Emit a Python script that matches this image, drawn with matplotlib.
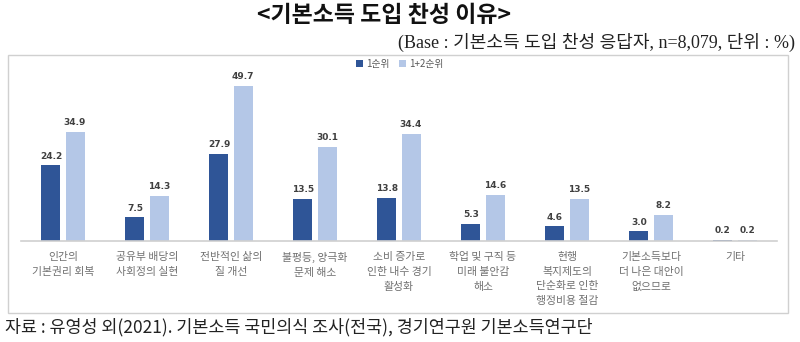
import matplotlib
matplotlib.use("Agg")
import matplotlib.pyplot as plt
import numpy as np
from matplotlib.patches import Rectangle

plt.rcParams['font.family'] = ['Noto Sans CJK KR', 'DejaVu Sans']

categories = [
    "인간의\n기본권리 회복",
    "공유부 배당의\n사회정의 실현",
    "전반적인 삶의\n질 개선",
    "불평등, 양극화\n문제 해소",
    "소비 증가로\n인한 내수 경기\n활성화",
    "학업 및 구직 등\n미래 불안감\n해소",
    "현행\n복지제도의\n단순화로 인한\n행정비용 절감",
    "기본소득보다\n더 나은 대안이\n없으므로",
    "기타",
]
rank1 = [24.2, 7.5, 27.9, 13.5, 13.8, 5.3, 4.6, 3.0, 0.2]
rank12 = [34.9, 14.3, 49.7, 30.1, 34.4, 14.6, 13.5, 8.2, 0.2]
series_names = ["1순위", "1+2순위"]

title = "<기본소득 도입 찬성 이유>"
subtitle = "(Base : 기본소득 도입 찬성 응답자, n=8,079, 단위 : %)"
source = "자료 : 유영성 외(2021). 기본소득 국민의식 조사(전국), 경기연구원 기본소득연구단"

W, H = 800, 342
fig = plt.figure(figsize=(W / 100, H / 100), dpi=100)
fig.patch.set_facecolor("white")

def fx(px):
    return px / W

def fy(py):
    return 1 - py / H

# chart frame
fig.patches.append(Rectangle((fx(8), fy(313)), fx(788) - fx(8), fy(55) - fy(313),
                             transform=fig.transFigure, fill=False,
                             edgecolor="#d0d0d0", linewidth=1.0))

ax_top, ax_bot = 70, 240.7
ax = fig.add_axes([fx(21), fy(ax_bot), fx(777) - fx(21), (ax_bot - ax_top) / H])
ax.set_facecolor("none")

dark = "#2F5597"
light = "#B4C7E7"
x = np.arange(len(categories))
bw = 0.226
off = 0.143
b1 = ax.bar(x - off, rank1, width=bw, color=dark, label=series_names[0])
b2 = ax.bar(x + off, rank12, width=bw, color=light, label=series_names[1])

for bars, vals in ((b1, rank1), (b2, rank12)):
    for r, v in zip(bars, vals):
        ax.annotate(f"{v:.1f}", (r.get_x() + r.get_width() / 2, r.get_height()),
                    xytext=(0, 3.5), textcoords="offset points",
                    ha="center", va="bottom", fontsize=6.5, fontweight="bold",
                    color="#404040", family=["DejaVu Sans"])

ax.set_xlim(-0.5, len(categories) - 0.5)
ax.set_ylim(0, (ax_bot - ax_top) / 3.11)
ax.set_yticks([])
ax.set_xticks(x)
ax.set_xticklabels(categories, fontsize=7.8, color="#707070", linespacing=1.6, va="top")
ax.tick_params(axis="x", length=0, pad=8)
for s in ("top", "right", "left"):
    ax.spines[s].set_visible(False)
ax.spines["bottom"].set_color("#d0d0d0")
ax.spines["bottom"].set_linewidth(1.2)

fig.legend(handles=[b1, b2], labels=series_names, loc="center",
           bbox_to_anchor=(fx(400), fy(64)), ncol=2, frameon=False,
           fontsize=7, handlelength=0.7, handleheight=0.7, handletextpad=0.3,
           columnspacing=1.0, labelcolor="#595959")

fig.text(fx(384), fy(16), title, ha="center", va="center", fontsize=16.5,
         fontweight="bold", color="#111111")
fig.text(fx(795), fy(42), subtitle, ha="right", va="center", fontsize=13,
         color="#222222", family=["Liberation Serif", "Noto Sans CJK KR"])
fig.text(fx(5), fy(327), source, ha="left", va="center", fontsize=12.5,
         color="#222222")

fig.savefig("out.png", dpi=100, facecolor="white")
